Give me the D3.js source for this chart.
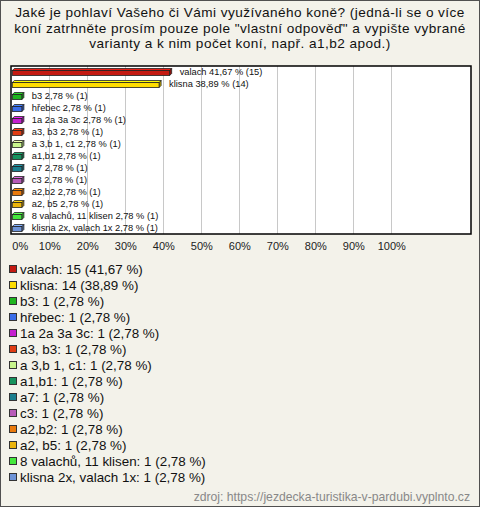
<!DOCTYPE html>
<html><head><meta charset="utf-8">
<script src="https://cdn.jsdelivr.net/npm/d3@7"></script>
<style>
html,body{margin:0;padding:0;background:#fff;}
svg{display:block;}
</style></head>
<body>
<svg id="c" width="480" height="507"></svg>
<script>
const titleLines = [
  "Jaké je pohlaví Vašeho či Vámi využívaného koně? (jedná-li se o více",
  "koní zatrhněte prosím pouze pole \"vlastní odpověď\" a vypište vybrané",
  "varianty a k nim počet koní, např. a1,b2 apod.)"
];
const categories = ["valach","klisna","b3","hřebec","1a 2a 3a 3c","a3, b3","a 3,b 1, c1","a1,b1","a7","c3","a2,b2","a2, b5","8 valachů, 11 klisen","klisna 2x, valach 1x"];
const counts = [15,14,1,1,1,1,1,1,1,1,1,1,1,1];
const percents = [41.67,38.89,2.78,2.78,2.78,2.78,2.78,2.78,2.78,2.78,2.78,2.78,2.78,2.78];
const colors = ["#c41a12","#ffdd00","#1fb51f","#3a6de8","#c51fcf","#e03c14","#c8f58c","#16935e","#1b7f8f","#b75ab8","#ea7a0c","#ebb40c","#45e83d","#6e94d8"];
const tickValues = [0,10,20,30,40,50,60,70,80,90,100];
const source = "zdroj: https://jezdecka-turistika-v-pardubi.vyplnto.cz";

const svg = d3.select("#c");
const W = 480, H = 507;
svg.append("rect").attr("x",0.5).attr("y",0.5).attr("width",W-1).attr("height",H-1)
  .attr("fill","#f3f2ea").attr("stroke","#505050");

// title
const tt = svg.append("text").attr("text-anchor","middle")
  .attr("font-family","'Liberation Sans', Arial, sans-serif").attr("font-size",13.6)
  .attr("letter-spacing",0.45).attr("fill","#111");
titleLines.forEach((l,i)=>tt.append("tspan").attr("x",240).attr("y",17+i*15.7).text(l));

// plot area
const px0 = 11, px1 = 471, py0 = 66, py1 = 234;
svg.append("rect").attr("x",px0).attr("y",py0).attr("width",px1-px0).attr("height",py1-py0)
  .attr("fill","#fff");
const x = d3.scaleLinear().domain([0,100]).range([11.3,391.3]);
const y = d3.scaleBand().domain(categories).range([py0,py1]);

svg.append("g").selectAll("line").data(tickValues.slice(1)).join("line")
  .attr("x1",d=>Math.round(x(d))+0.5).attr("x2",d=>Math.round(x(d))+0.5)
  .attr("y1",py0).attr("y2",py1).attr("stroke","#c8c8c8").attr("stroke-width",1);

const d = 2;
const bars = svg.append("g").selectAll("g").data(categories).join("g");
bars.each(function(c,i){
  const g = d3.select(this);
  const cy = y(c) + y.bandwidth()/2;
  const xa = x(0)+1, xb = x(percents[i]);
  const col = d3.color(colors[i]);
  const top = cy-1.5, bot = cy+3.5;
  g.append("path").attr("d",`M${xb},${top}L${xb+d},${top-d}L${xb+d},${bot-d}L${xb},${bot}Z`)
    .attr("fill",col.darker(0.6)).attr("stroke","#222").attr("stroke-width",0.8);
  g.append("path").attr("d",`M${xa},${top}L${xa+d},${top-d}L${xb+d},${top-d}L${xb},${top}Z`)
    .attr("fill",col.brighter(0.5)).attr("stroke","#222").attr("stroke-width",0.8);
  g.append("rect").attr("x",xa).attr("y",top).attr("width",xb-xa).attr("height",bot-top)
    .attr("fill",col).attr("stroke","#222").attr("stroke-width",0.8);
  g.append("text").attr("x",xb+10).attr("y",cy+3.3)
    .attr("font-family","'Liberation Sans', Arial, sans-serif").attr("font-size",9.3).attr("fill","#111")
    .text(`${c} ${percents[i].toFixed(2).replace(".",",")} % (${counts[i]})`);
});

svg.append("rect").attr("x",px0).attr("y",py0).attr("width",px1-px0).attr("height",py1-py0)
  .attr("fill","none").attr("stroke","#000").attr("stroke-width",1.5);

// axis
const axis = d3.axisBottom(x).tickValues(tickValues).tickSize(0).tickPadding(0).tickFormat(v=>v+"%");
const ag = svg.append("g").attr("transform",`translate(0,${py1})`).call(axis);
ag.select(".domain").remove();
ag.selectAll("text").attr("y",16).attr("dy",0).attr("font-family","'Liberation Sans', Arial, sans-serif")
  .attr("font-size",11).attr("fill","#222");
ag.selectAll(".tick").filter(v=>v===0).select("text").attr("text-anchor","start").attr("x",0.5);

// legend
const lg = svg.append("g").selectAll("g").data(categories).join("g")
  .attr("transform",(c,i)=>`translate(0,${269+i*16})`);
lg.append("rect").attr("x",9.5).attr("y",-3.5).attr("width",7).attr("height",7)
  .attr("fill",(c,i)=>colors[i]).attr("stroke","#333").attr("stroke-width",1);
lg.append("text").attr("x",20).attr("y",5)
  .attr("font-family","'Liberation Sans', Arial, sans-serif").attr("font-size",13.4).attr("fill","#111")
  .text((c,i)=>`${c}: ${counts[i]} (${percents[i].toFixed(2).replace(".",",")} %)`);

svg.append("text").attr("x",470).attr("y",501).attr("text-anchor","end")
  .attr("font-family","'Liberation Sans', Arial, sans-serif").attr("font-size",12.2).attr("fill","#888")
  .text(source);
</script>
</body></html>
